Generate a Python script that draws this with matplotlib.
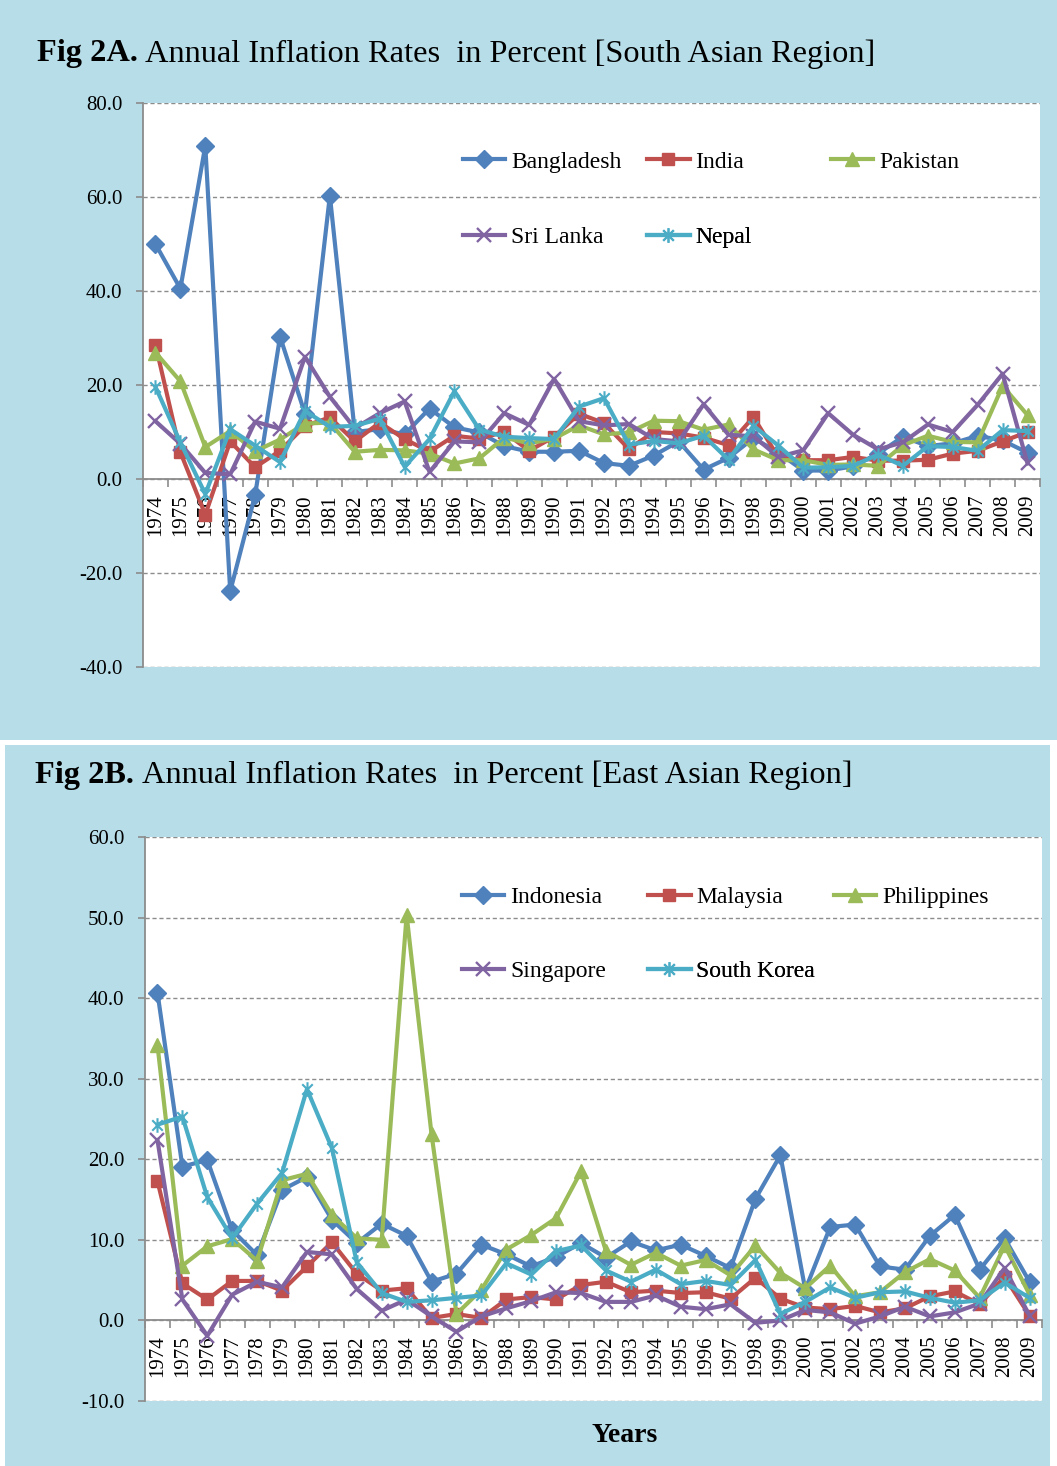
import numpy as np
import matplotlib
matplotlib.use("Agg")
import matplotlib.pyplot as plt
from matplotlib.path import Path
from matplotlib.patches import Rectangle

plt.rcParams['font.family'] = ['Liberation Serif', 'DejaVu Serif']

years = list(range(1974, 2010))

# ---- Fig 2A: South Asia ----
south_names = ["Bangladesh", "India", "Pakistan", "Sri Lanka", "Nepal"]
bangladesh = [50.0, 40.5, 70.9, -23.9, -3.4, 30.3, 13.9, 60.3, 10.0, 10.6,
              9.5, 15.0, 11.0, 9.9, 7.0, 5.8, 5.8, 6.0, 3.4, 2.8,
              5.0, 8.0, 2.0, 4.5, 8.7, 5.6, 1.8, 1.8, 2.7, 5.4,
              9.0, 7.0, 7.6, 9.2, 8.2, 5.6]
india = [28.6, 5.7, -7.6, 8.0, 2.5, 6.0, 11.3, 13.1, 8.0, 12.0,
         8.5, 5.8, 9.2, 8.6, 10.0, 6.0, 9.0, 13.9, 11.9, 6.4,
         10.0, 9.7, 8.8, 7.2, 13.2, 4.6, 4.0, 4.0, 4.7, 3.9,
         3.9, 4.1, 5.4, 6.0, 8.0, 10.0]
pakistan = [26.9, 20.8, 6.8, 10.2, 5.9, 8.4, 11.8, 12.0, 5.8, 6.2,
            6.1, 5.4, 3.3, 4.4, 8.8, 7.6, 8.6, 11.4, 9.5, 9.9,
            12.4, 12.3, 10.5, 11.6, 6.3, 4.0, 4.0, 3.0, 3.1, 2.8,
            7.2, 9.2, 7.9, 7.8, 19.8, 13.6]
sri_lanka = [12.3, 7.5, 1.3, 1.0, 12.2, 10.7, 26.0, 17.5, 10.8, 14.0,
             16.5, 1.5, 8.0, 7.8, 14.0, 11.5, 21.3, 12.3, 11.4, 11.7,
             8.5, 8.0, 15.9, 9.4, 9.1, 4.7, 6.1, 14.0, 9.4, 6.3,
             7.8, 11.6, 10.0, 15.8, 22.4, 3.3]
nepal = [19.6, 7.8, -3.2, 10.6, 7.1, 3.6, 14.5, 11.1, 11.3, 12.8,
         2.6, 8.5, 18.7, 10.5, 9.0, 8.7, 8.5, 15.4, 17.2, 7.3,
         8.1, 7.6, 9.2, 4.1, 11.3, 7.1, 2.4, 2.5, 2.8, 5.2,
         2.8, 7.0, 6.8, 6.0, 10.4, 10.2]

# ---- Fig 2B: East Asia ----
east_names = ["Indonesia", "Malaysia", "Philippines", "Singapore", "South Korea"]
indonesia = [40.7, 19.1, 19.9, 11.2, 8.1, 16.2, 17.8, 12.5, 9.6, 12.0,
             10.5, 4.8, 5.8, 9.4, 8.2, 6.7, 7.9, 9.6, 7.8, 9.8,
             8.7, 9.4, 8.0, 6.5, 15.1, 20.5, 3.8, 11.6, 11.9, 6.7,
             6.3, 10.5, 13.1, 6.3, 10.2, 4.8]
malaysia = [17.3, 4.6, 2.6, 4.9, 4.9, 3.7, 6.7, 9.7, 5.8, 3.7,
            4.0, 0.3, 0.8, 0.3, 2.6, 2.9, 2.6, 4.4, 4.8, 3.5,
            3.7, 3.4, 3.5, 2.7, 5.3, 2.7, 1.6, 1.4, 1.8, 1.0,
            1.5, 3.0, 3.6, 2.0, 5.4, 0.6]
philippines = [34.2, 6.8, 9.2, 10.1, 7.4, 17.4, 18.2, 13.1, 10.2, 10.0,
               50.3, 23.1, 0.8, 3.8, 8.8, 10.6, 12.7, 18.5, 8.6, 6.9,
               8.4, 6.8, 7.5, 5.6, 9.3, 5.9, 4.0, 6.8, 3.0, 3.5,
               6.0, 7.6, 6.2, 2.8, 9.3, 3.2]
singapore = [22.4, 2.6, -1.9, 3.2, 4.8, 4.1, 8.5, 8.2, 3.9, 1.2,
             2.6, 0.5, -1.4, 0.5, 1.5, 2.4, 3.5, 3.4, 2.3, 2.3,
             3.1, 1.7, 1.4, 2.0, -0.3, 0.0, 1.3, 1.0, -0.4, 0.5,
             1.7, 0.5, 1.0, 2.1, 6.5, 0.6]
south_korea = [24.3, 25.3, 15.3, 10.2, 14.5, 18.3, 28.7, 21.4, 7.2, 3.4,
               2.3, 2.5, 2.8, 3.1, 7.1, 5.7, 8.6, 9.3, 6.2, 4.8,
               6.3, 4.5, 4.9, 4.4, 7.5, 0.8, 2.3, 4.1, 2.8, 3.5,
               3.6, 2.8, 2.2, 2.5, 4.7, 2.8]

colors = ["#4F81BD", "#C0504D", "#9BBB59", "#8064A2", "#4BACC6"]

star_path = Path([(0, -1), (0, 1), (-0.72, -0.72), (0.72, 0.72), (-0.72, 0.72), (0.72, -0.72)],
                 [Path.MOVETO, Path.LINETO] * 3)
marker_specs = [("D", 9, 1.0), ("s", 9, 1.0), ("^", 10, 1.0), ("x", 9.5, 1.7), (star_path, 10.5, 1.5)]

BG = "#B7DDE8"
GRID = "#8C8C8C"

fig = plt.figure(figsize=(10.57, 14.66), dpi=100, facecolor="white")
W, H = 1057.0, 1466.0

# panel backgrounds
fig.patches.append(Rectangle((0, 1 - 740 / H), 1, 740 / H, transform=fig.transFigure,
                             facecolor=BG, edgecolor="none", zorder=-10))
fig.patches.append(Rectangle((5 / W, 0), 1045 / W, 1 - 745 / H, transform=fig.transFigure,
                             facecolor=BG, edgecolor="none", zorder=-10))


def axes_px(left, top, right, bottom):
    return fig.add_axes([left / W, 1 - bottom / H, (right - left) / W, (bottom - top) / H])


def draw_panel(ax, series, names, ylim, yticks, leg_cols, leg_rows):
    x = np.arange(len(years))
    ax.set_facecolor("white")
    handles = []
    for i, (vals, name) in enumerate(zip(series, names)):
        m, ms, mew = marker_specs[i]
        c = colors[i]
        mfc = "none" if (m == "x" or m is star_path) else c
        ln, = ax.plot(x, vals, color=c, lw=3.0, marker=m, ms=ms, mfc=mfc, mec=c,
                      mew=mew, label=name, zorder=3 + i, clip_on=False)
        handles.append(ln)
    ax.set_xlim(-0.5, len(years) - 0.5)
    ax.set_ylim(*ylim)
    ax.set_yticks(yticks)
    ax.set_yticklabels([f"{v:.1f}" for v in yticks])
    ax.set_axisbelow(True)
    ax.yaxis.grid(True, linestyle=(0, (3, 2)), color=GRID, lw=1.0)
    for s in ("top", "right"):
        ax.spines[s].set_visible(False)
    ax.spines["bottom"].set_position(("data", 0))
    ax.spines["bottom"].set_color(GRID)
    ax.spines["bottom"].set_linewidth(1.3)
    ax.spines["left"].set_color(GRID)
    ax.spines["left"].set_linewidth(1.3)
    ax.set_xticks(x)
    ax.set_xticklabels([str(y) for y in years], rotation=90, fontsize=15)
    ax.set_xticks(np.arange(-0.5, len(years), 1), minor=True)
    ax.tick_params(axis="x", which="major", length=0, pad=11)
    ax.tick_params(axis="x", which="minor", length=6, width=1.2, color=GRID, direction="out")
    ax.tick_params(axis="y", which="major", length=5, width=1.2, color=GRID, labelsize=15, pad=10)
    slots = [(0, 0), (1, 0), (2, 0), (0, 1), (1, 1)]
    for h, (ci, ri) in zip(handles, slots):
        lg = ax.legend(handles=[h], loc="center left",
                       bbox_to_anchor=(leg_cols[ci], leg_rows[ri]),
                       frameon=False, fontsize=17, handlelength=1.8,
                       handletextpad=0.25, borderpad=0, borderaxespad=0)
        ax.add_artist(lg)


ax1 = axes_px(143, 103, 1040, 667)
draw_panel(ax1, [bangladesh, india, pakistan, sri_lanka, nepal], south_names,
           (-40, 80), [-40, -20, 0, 20, 40, 60, 80],
           [0.3567, 0.5619, 0.767], [0.8954, 0.7624])

ax2 = axes_px(145, 837, 1042, 1401)
draw_panel(ax2, [indonesia, malaysia, philippines, singapore, south_korea], east_names,
           (-10, 60), [-10, 0, 10, 20, 30, 40, 50, 60],
           [0.3534, 0.5608, 0.768], [0.8936, 0.7624])

# titles
fig.text(37 / W, 1 - 54 / H, "Fig 2A.", fontsize=23.3, fontweight="bold", va="center", ha="left")
fig.text(145 / W, 1 - 54 / H, "Annual Inflation Rates  in Percent [South Asian Region]",
         fontsize=23.3, va="center", ha="left")
fig.text(35 / W, 1 - 775 / H, "Fig 2B.", fontsize=23.3, fontweight="bold", va="center", ha="left")
fig.text(142 / W, 1 - 775 / H, "Annual Inflation Rates  in Percent [East Asian Region]",
         fontsize=23.3, va="center", ha="left")
fig.text(625 / W, 1 - 1436 / H, "Years", fontsize=20, fontweight="bold", va="center", ha="center")

fig.savefig("out.png", dpi=100, facecolor="white")
